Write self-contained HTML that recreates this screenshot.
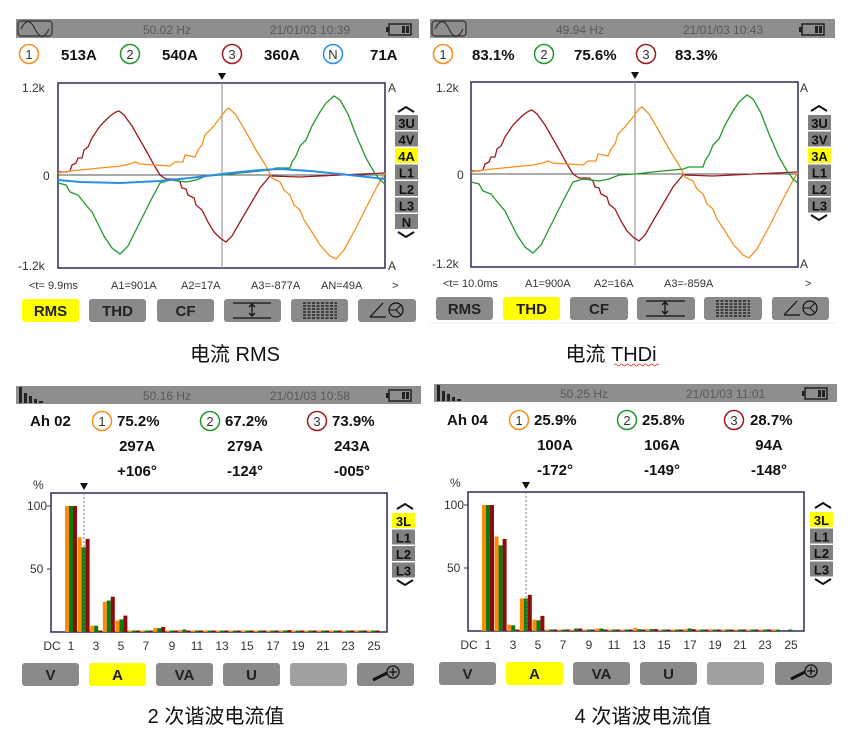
<!DOCTYPE html>
<html><head><meta charset="utf-8"><style>
html,body{margin:0;padding:0;background:#fff}
svg{display:block}
text{font-family:"Liberation Sans","Noto Sans CJK SC",sans-serif}
.hd{font-size:12px;fill:#5a5a5a}
.rd{font-size:15px;font-weight:bold;fill:#111}
.ax{font-size:12px;fill:#333}
.cr{font-size:11px;fill:#333}
.bt{font-size:15px;font-weight:bold;fill:#222;text-anchor:middle}
.sb{font-size:13px;font-weight:bold;fill:#111;text-anchor:middle}
.cap{font-size:20px;fill:#111;text-anchor:middle}
</style></head><body>
<svg id="s" width="856" height="748" viewBox="0 0 856 748" xmlns="http://www.w3.org/2000/svg">
<defs>
<g id="sine"><rect x="0" y="0" width="34" height="15" rx="3" fill="none" stroke="#333" stroke-width="1.2"/><path d="M3,8 C8,-2 12,-2 17,8 C22,18 26,18 31,8" fill="none" stroke="#333" stroke-width="1.2"/></g>
<g id="bat"><rect x="0" y="0" width="22" height="11" fill="none" stroke="#222" stroke-width="1.5"/><rect x="-3" y="3" width="3" height="5" fill="#222"/><rect x="13" y="2" width="3" height="7" fill="#222"/><rect x="17" y="2" width="3" height="7" fill="#222"/></g>
<g id="hic"><rect x="0" y="0" width="3" height="16" fill="#222"/><rect x="5" y="6" width="3" height="10" fill="#222"/><rect x="10" y="9" width="3" height="7" fill="#222"/><rect x="15" y="12" width="3" height="4" fill="#222"/><rect x="20" y="14" width="4" height="2" fill="#222"/></g>
</defs>

<!-- ========== PANEL 1 ========== -->
<rect x="16" y="19" width="403" height="19" fill="#8e8e8e"/>
<use href="#sine" x="18" y="21"/>
<text class="hd" x="143" y="34">50.02 Hz</text>
<text class="hd" x="270" y="34">21/01/03  10:39</text>
<use href="#bat" x="389" y="24"/>
<circle cx="29" cy="54" r="9.5" fill="#fff" stroke="#f39019" stroke-width="1.5"/><text x="29" y="59" font-size="13" text-anchor="middle" fill="#333">1</text>
<text class="rd" x="61" y="60">513A</text>
<circle cx="130" cy="54" r="9.5" fill="#fff" stroke="#1f9a2a" stroke-width="1.5"/><text x="130" y="59" font-size="13" text-anchor="middle" fill="#333">2</text>
<text class="rd" x="162" y="60">540A</text>
<circle cx="232" cy="54" r="9.5" fill="#fff" stroke="#a0191e" stroke-width="1.5"/><text x="232" y="59" font-size="13" text-anchor="middle" fill="#333">3</text>
<text class="rd" x="264" y="60">360A</text>
<circle cx="333" cy="54" r="9.5" fill="#fff" stroke="#2190ee" stroke-width="1.5"/><text x="333" y="59" font-size="13" text-anchor="middle" fill="#333">N</text>
<text class="rd" x="370" y="60">71A</text>

<g id="wave1">
<rect x="58" y="83" width="327" height="185" fill="#fff" stroke="#2b2b55" stroke-width="1.5"/>
<line x1="58" y1="175" x2="385" y2="175" stroke="#555" stroke-width="1"/>
<line x1="222" y1="83" x2="222" y2="268" stroke="#999" stroke-width="1.2"/>
<path d="M218,73 L226,73 L222,80 Z" fill="#111"/>
<polyline fill="none" stroke="#a0191e" stroke-width="1.3" points="58,172 66,172 70,171 72,165 76,163 78,158 82,158 84,150 88,147 92,138 96,132 100,126 104,122 110,116 116,112 119,111 124,115 132,126 140,140 148,154 154,165 160,175 166,179 176,179 180,182 182,188 186,189 188,195 194,198 196,205 202,210 208,222 214,232 220,238 226,242 232,236 240,222 250,205 260,188 270,176 300,177 340,175 385,173"/>
<polyline fill="none" stroke="#f7901e" stroke-width="1.3" points="58,173 70,171 100,168 120,166 130,164 135,162 140,164 170,166 175,162 183,162 185,155 195,157 198,150 202,145 205,135 212,128 220,118 226,110 229,108 236,115 246,132 256,150 266,166 272,178 280,182 284,190 290,195 294,205 300,210 304,220 312,232 320,245 330,256 336,259 344,250 356,228 368,204 378,185 385,173"/>
<polyline fill="none" stroke="#1f9a2a" stroke-width="1.3" points="58,183 66,185 70,192 78,195 86,205 92,212 98,224 104,236 112,248 120,254 128,246 138,226 150,202 160,183 170,180 186,182 196,180 206,176 222,175 240,173 270,170 276,168 290,168 292,162 296,156 300,146 306,140 312,126 320,112 326,103 334,96 340,100 348,114 356,135 366,158 374,172 380,180 385,184"/>
</g>
<polyline fill="none" stroke="#2b8de8" stroke-width="2" points="58,180 80,182 120,183 160,181 190,178 230,173 260,170 280,169 310,171 340,174 385,179"/>
<text class="ax" x="22" y="92">1.2k</text>
<text class="ax" x="43" y="180">0</text>
<text class="ax" x="18" y="270">-1.2k</text>
<text class="ax" x="388" y="92">A</text>
<text class="ax" x="388" y="270">A</text>
<text class="cr" x="29" y="289">&lt;t=  9.9ms</text>
<text class="cr" x="111" y="289">A1=901A</text>
<text class="cr" x="181" y="289">A2=17A</text>
<text class="cr" x="251" y="289">A3=-877A</text>
<text class="cr" x="321" y="289">AN=49A</text>
<text class="cr" x="392" y="289">&gt;</text>
<path d="M398,112 L406,107 L414,112" fill="none" stroke="#111" stroke-width="2"/>
<rect x="395" y="115" width="23" height="15" fill="#808080"/><text class="sb" x="406.5" y="128">3U</text>
<rect x="395" y="131.5" width="23" height="15" fill="#808080"/><text class="sb" x="406.5" y="144.5">4V</text>
<rect x="395" y="148" width="23" height="15" fill="#ffff00"/><text class="sb" x="406.5" y="161">4A</text>
<rect x="395" y="164.5" width="23" height="15" fill="#808080"/><text class="sb" x="406.5" y="177.5">L1</text>
<rect x="395" y="181" width="23" height="15" fill="#808080"/><text class="sb" x="406.5" y="194">L2</text>
<rect x="395" y="197.5" width="23" height="15" fill="#808080"/><text class="sb" x="406.5" y="210.5">L3</text>
<rect x="395" y="214" width="23" height="15" fill="#808080"/><text class="sb" x="406.5" y="227">N</text>
<path d="M398,232 L406,237 L414,232" fill="none" stroke="#111" stroke-width="2"/>
<rect x="22" y="299" width="57" height="23" rx="3" fill="#ffff00"/><text class="bt" x="50.5" y="316">RMS</text>
<rect x="89" y="299" width="57" height="23" rx="3" fill="#8a8a8a"/><text class="bt" x="117.5" y="316">THD</text>
<rect x="157" y="299" width="57" height="23" rx="3" fill="#8a8a8a"/><text class="bt" x="185.5" y="316">CF</text>
<rect x="224" y="299" width="57" height="23" rx="3" fill="#8a8a8a"/><path d="M233,303 H271 M233,318 H271 M252,305 V316 M249,307 L252,304 L255,307 M249,313 L252,316 L255,313" stroke="#111" stroke-width="1.3" fill="none"/>
<rect x="291" y="299" width="57" height="23" rx="3" fill="#8a8a8a"/><path d="M303,303 H337 M303,306 H337 M303,309 H337 M303,312 H337 M303,315 H337 M303,318 H337" stroke="#111" stroke-width="1.2" stroke-dasharray="3,1.5"/>
<rect x="358" y="299" width="58" height="23" rx="3" fill="#8a8a8a"/><path d="M370,317 L383,303 M370,317 L386,317" stroke="#111" stroke-width="1.2" fill="none"/><circle cx="396" cy="310" r="7" fill="none" stroke="#111" stroke-width="1.2"/><path d="M389,310 H396 L401,305 M396,310 L401,315" stroke="#111" stroke-width="1" fill="none"/>
<text class="cap" x="235" y="361">电流 RMS</text>

<!-- ========== PANEL 2 ========== -->
<rect x="430" y="19" width="405" height="19" fill="#8e8e8e"/>
<use href="#sine" x="432" y="21"/>
<text class="hd" x="556" y="34">49.94 Hz</text>
<text class="hd" x="683" y="34">21/01/03  10:43</text>
<use href="#bat" x="802" y="24"/>
<circle cx="443" cy="54" r="9.5" fill="#fff" stroke="#f39019" stroke-width="1.5"/><text x="443" y="59" font-size="13" text-anchor="middle" fill="#333">1</text>
<text class="rd" x="472" y="60">83.1%</text>
<circle cx="544" cy="54" r="9.5" fill="#fff" stroke="#1f9a2a" stroke-width="1.5"/><text x="544" y="59" font-size="13" text-anchor="middle" fill="#333">2</text>
<text class="rd" x="574" y="60">75.6%</text>
<circle cx="646" cy="54" r="9.5" fill="#fff" stroke="#a0191e" stroke-width="1.5"/><text x="646" y="59" font-size="13" text-anchor="middle" fill="#333">3</text>
<text class="rd" x="675" y="60">83.3%</text>
<use href="#wave1" transform="translate(413,-1)"/>
<text class="ax" x="436" y="92">1.2k</text>
<text class="ax" x="457" y="179">0</text>
<text class="ax" x="432" y="268">-1.2k</text>
<text class="ax" x="800" y="92">A</text>
<text class="ax" x="800" y="268">A</text>
<text class="cr" x="443" y="287">&lt;t= 10.0ms</text>
<text class="cr" x="525" y="287">A1=900A</text>
<text class="cr" x="594" y="287">A2=16A</text>
<text class="cr" x="664" y="287">A3=-859A</text>
<text class="cr" x="805" y="287">&gt;</text>
<path d="M811,111 L819,106 L827,111" fill="none" stroke="#111" stroke-width="2"/>
<rect x="808" y="115" width="23" height="15" fill="#808080"/><text class="sb" x="819.5" y="128">3U</text>
<rect x="808" y="131.5" width="23" height="15" fill="#808080"/><text class="sb" x="819.5" y="144.5">3V</text>
<rect x="808" y="148" width="23" height="15" fill="#ffff00"/><text class="sb" x="819.5" y="161">3A</text>
<rect x="808" y="164.5" width="23" height="15" fill="#808080"/><text class="sb" x="819.5" y="177.5">L1</text>
<rect x="808" y="181" width="23" height="15" fill="#808080"/><text class="sb" x="819.5" y="194">L2</text>
<rect x="808" y="197.5" width="23" height="15" fill="#808080"/><text class="sb" x="819.5" y="210.5">L3</text>
<path d="M811,215 L819,220 L827,215" fill="none" stroke="#111" stroke-width="2"/>
<rect x="436" y="297" width="57" height="23" rx="3" fill="#8a8a8a"/><text class="bt" x="464.5" y="314">RMS</text>
<rect x="503" y="297" width="57" height="23" rx="3" fill="#ffff00"/><text class="bt" x="531.5" y="314">THD</text>
<rect x="570" y="297" width="58" height="23" rx="3" fill="#8a8a8a"/><text class="bt" x="599" y="314">CF</text>
<rect x="637" y="297" width="58" height="23" rx="3" fill="#8a8a8a"/><path d="M646,301 H685 M646,316 H685 M665,303 V314 M662,305 L665,302 L668,305 M662,311 L665,314 L668,311" stroke="#111" stroke-width="1.3" fill="none"/>
<rect x="704" y="297" width="58" height="23" rx="3" fill="#8a8a8a"/><path d="M716,301 H750 M716,304 H750 M716,307 H750 M716,310 H750 M716,313 H750 M716,316 H750" stroke="#111" stroke-width="1.2" stroke-dasharray="3,1.5"/>
<rect x="772" y="297" width="57" height="23" rx="3" fill="#8a8a8a"/><path d="M784,315 L797,301 M784,315 L800,315" stroke="#111" stroke-width="1.2" fill="none"/><circle cx="810" cy="308" r="7" fill="none" stroke="#111" stroke-width="1.2"/><path d="M803,308 H810 L815,303 M810,308 L815,313" stroke="#111" stroke-width="1" fill="none"/>
<line x1="430" y1="323" x2="835" y2="323" stroke="#eee"/>
<text class="cap" x="611" y="361">电流 THDi</text>
<path d="M614,365 q1.5,-2 3,0 t3,0 t3,0 t3,0 t3,0 t3,0 t3,0 t3,0 t3,0 t3,0 t3,0 t3,0 t3,0 t3,0 t3,0" fill="none" stroke="#d33" stroke-width="0.8"/>

<!-- ========== PANEL 3 ========== -->
<rect x="16" y="386" width="405" height="18" fill="#8e8e8e"/>
<use href="#hic" x="19" y="387"/>
<text class="hd" x="143" y="400">50.16 Hz</text>
<text class="hd" x="270" y="400">21/01/03  10:58</text>
<use href="#bat" x="389" y="390"/>
<text class="rd" x="30" y="426">Ah 02</text>
<circle cx="102" cy="421" r="9.5" fill="#fff" stroke="#f39019" stroke-width="1.5"/><text x="102" y="426" font-size="13" text-anchor="middle" fill="#333">1</text>
<text class="rd" x="117" y="426">75.2%</text>
<circle cx="210" cy="421" r="9.5" fill="#fff" stroke="#1f9a2a" stroke-width="1.5"/><text x="210" y="426" font-size="13" text-anchor="middle" fill="#333">2</text>
<text class="rd" x="225" y="426">67.2%</text>
<circle cx="317" cy="421" r="9.5" fill="#fff" stroke="#a0191e" stroke-width="1.5"/><text x="317" y="426" font-size="13" text-anchor="middle" fill="#333">3</text>
<text class="rd" x="332" y="426">73.9%</text>
<text class="rd" x="137" y="451" text-anchor="middle">297A</text>
<text class="rd" x="245" y="451" text-anchor="middle">279A</text>
<text class="rd" x="352" y="451" text-anchor="middle">243A</text>
<text class="rd" x="137" y="476" text-anchor="middle">+106°</text>
<text class="rd" x="245" y="476" text-anchor="middle">-124°</text>
<text class="rd" x="352" y="476" text-anchor="middle">-005°</text>
<text class="ax" x="33" y="489">%</text>
<rect x="51" y="493" width="336" height="139" fill="#fff" stroke="#2b2b55" stroke-width="1.5"/>
<g id="bars3"></g>
<line x1="84" y1="493" x2="84" y2="632" stroke="#777" stroke-dasharray="2,2"/>
<path d="M80,483 L88,483 L84,490 Z" fill="#111"/>
<line x1="47" y1="506" x2="51" y2="506" stroke="#333"/><line x1="47" y1="569" x2="51" y2="569" stroke="#333"/>
<text class="ax" x="27" y="510">100</text>
<text class="ax" x="30" y="573">50</text>
<g class="ax" text-anchor="middle">
<text x="52" y="650">DC</text><text x="71" y="650">1</text><text x="96" y="650">3</text><text x="121" y="650">5</text><text x="146" y="650">7</text><text x="172" y="650">9</text><text x="197" y="650">11</text><text x="222" y="650">13</text><text x="247" y="650">15</text><text x="273" y="650">17</text><text x="298" y="650">19</text><text x="323" y="650">21</text><text x="348" y="650">23</text><text x="374" y="650">25</text>
</g>
<path d="M397,509 L405,504 L413,509" fill="none" stroke="#111" stroke-width="2"/>
<rect x="392" y="513" width="23" height="15" fill="#ffff00"/><text class="sb" x="403.5" y="526">3L</text>
<rect x="392" y="529.5" width="23" height="15" fill="#808080"/><text class="sb" x="403.5" y="542.5">L1</text>
<rect x="392" y="546" width="23" height="15" fill="#808080"/><text class="sb" x="403.5" y="559">L2</text>
<rect x="392" y="562.5" width="23" height="15" fill="#808080"/><text class="sb" x="403.5" y="575.5">L3</text>
<path d="M397,580 L405,585 L413,580" fill="none" stroke="#111" stroke-width="2"/>
<rect x="22" y="663" width="57" height="23" rx="3" fill="#8a8a8a"/><text class="bt" x="50.5" y="680">V</text>
<rect x="89" y="663" width="57" height="23" rx="3" fill="#ffff00"/><text class="bt" x="117.5" y="680">A</text>
<rect x="156" y="663" width="57" height="23" rx="3" fill="#8a8a8a"/><text class="bt" x="184.5" y="680">VA</text>
<rect x="223" y="663" width="57" height="23" rx="3" fill="#8a8a8a"/><text class="bt" x="251.5" y="680">U</text>
<rect x="290" y="663" width="57" height="23" rx="3" fill="#a0a0a0"/>
<rect x="357" y="663" width="57" height="23" rx="3" fill="#8a8a8a"/><path d="M373,680 L387,673" stroke="#111" stroke-width="3"/><circle cx="393" cy="672" r="6" fill="none" stroke="#111" stroke-width="1.3"/><path d="M389,672 H397 M393,668 V676" stroke="#111" stroke-width="1.3"/>
<text class="cap" x="216" y="723">2 次谐波电流值</text>

<!-- ========== PANEL 4 ========== -->
<rect x="434" y="384" width="403" height="18" fill="#8e8e8e"/>
<use href="#hic" x="437" y="385"/>
<text class="hd" x="560" y="398">50.25 Hz</text>
<text class="hd" x="686" y="398">21/01/03  11:01</text>
<use href="#bat" x="805" y="388"/>
<text class="rd" x="447" y="425">Ah 04</text>
<circle cx="519" cy="420" r="9.5" fill="#fff" stroke="#f39019" stroke-width="1.5"/><text x="519" y="425" font-size="13" text-anchor="middle" fill="#333">1</text>
<text class="rd" x="534" y="425">25.9%</text>
<circle cx="627" cy="420" r="9.5" fill="#fff" stroke="#1f9a2a" stroke-width="1.5"/><text x="627" y="425" font-size="13" text-anchor="middle" fill="#333">2</text>
<text class="rd" x="642" y="425">25.8%</text>
<circle cx="734" cy="420" r="9.5" fill="#fff" stroke="#a0191e" stroke-width="1.5"/><text x="734" y="425" font-size="13" text-anchor="middle" fill="#333">3</text>
<text class="rd" x="750" y="425">28.7%</text>
<text class="rd" x="555" y="450" text-anchor="middle">100A</text>
<text class="rd" x="662" y="450" text-anchor="middle">106A</text>
<text class="rd" x="769" y="450" text-anchor="middle">94A</text>
<text class="rd" x="555" y="475" text-anchor="middle">-172°</text>
<text class="rd" x="662" y="475" text-anchor="middle">-149°</text>
<text class="rd" x="769" y="475" text-anchor="middle">-148°</text>
<text class="ax" x="450" y="487">%</text>
<rect x="468" y="492" width="336" height="139" fill="#fff" stroke="#2b2b55" stroke-width="1.5"/>
<g id="bars4"></g>
<line x1="526" y1="492" x2="526" y2="631" stroke="#777" stroke-dasharray="2,2"/>
<path d="M522,482 L530,482 L526,489 Z" fill="#111"/>
<line x1="464" y1="505" x2="468" y2="505" stroke="#333"/><line x1="464" y1="568" x2="468" y2="568" stroke="#333"/>
<text class="ax" x="444" y="509">100</text>
<text class="ax" x="447" y="572">50</text>
<g class="ax" text-anchor="middle">
<text x="469" y="649">DC</text><text x="488" y="649">1</text><text x="513" y="649">3</text><text x="538" y="649">5</text><text x="563" y="649">7</text><text x="589" y="649">9</text><text x="614" y="649">11</text><text x="639" y="649">13</text><text x="664" y="649">15</text><text x="690" y="649">17</text><text x="715" y="649">19</text><text x="740" y="649">21</text><text x="765" y="649">23</text><text x="791" y="649">25</text>
</g>
<path d="M815,508 L823,503 L831,508" fill="none" stroke="#111" stroke-width="2"/>
<rect x="810" y="512" width="23" height="15" fill="#ffff00"/><text class="sb" x="821.5" y="525">3L</text>
<rect x="810" y="528.5" width="23" height="15" fill="#808080"/><text class="sb" x="821.5" y="541.5">L1</text>
<rect x="810" y="545" width="23" height="15" fill="#808080"/><text class="sb" x="821.5" y="558">L2</text>
<rect x="810" y="561.5" width="23" height="15" fill="#808080"/><text class="sb" x="821.5" y="574.5">L3</text>
<path d="M815,579 L823,584 L831,579" fill="none" stroke="#111" stroke-width="2"/>
<rect x="439" y="662" width="57" height="23" rx="3" fill="#8a8a8a"/><text class="bt" x="467.5" y="679">V</text>
<rect x="506" y="662" width="57" height="23" rx="3" fill="#ffff00"/><text class="bt" x="534.5" y="679">A</text>
<rect x="573" y="662" width="57" height="23" rx="3" fill="#8a8a8a"/><text class="bt" x="601.5" y="679">VA</text>
<rect x="640" y="662" width="57" height="23" rx="3" fill="#8a8a8a"/><text class="bt" x="668.5" y="679">U</text>
<rect x="707" y="662" width="57" height="23" rx="3" fill="#a0a0a0"/>
<rect x="775" y="662" width="57" height="23" rx="3" fill="#8a8a8a"/><path d="M791,679 L805,672" stroke="#111" stroke-width="3"/><circle cx="811" cy="671" r="6" fill="none" stroke="#111" stroke-width="1.3"/><path d="M807,671 H815 M811,667 V675" stroke="#111" stroke-width="1.3"/>
<text class="cap" x="643" y="723">4 次谐波电流值</text>
</svg>
<script>
(function(){
var NS="http://www.w3.org/2000/svg",cols=["#ff8c00","#0a7a0a","#8b0a0a"];
function draw(id,x1,base,d){
  var g=document.getElementById(id);
  for(var n=0;n<d.length;n++){
    var c=x1+12.6*n;
    for(var k=0;k<3;k++){
      var v=d[n][k]; if(v<=0) continue;
      var h=Math.max(1.5,v*1.26);
      var r=document.createElementNS(NS,"rect");
      r.setAttribute("x",c-6+4*k);r.setAttribute("y",base-h);
      r.setAttribute("width",4);r.setAttribute("height",h);
      r.setAttribute("fill",cols[k]);g.appendChild(r);
    }
  }
}
var small=[[0.5,0.5,1],[0.5,0.5,1],[3,3,4],[1,0.5,1],[1.5,2,1],[1,0.5,1],[0.5,0.5,0.5],[1,1,1],[0.5,0.5,1],[0.5,0.5,0.5],[0.5,0.5,0.5],[0.5,0.5,1],[0.5,1,1.5],[0.5,0.5,0.5],[0.5,0.5,0.5],[0.5,0.5,0.5],[0.5,0.5,0.5],[0.5,1,0.5],[1,1,0.5],[0.5,0.5,0.5]];
var d3=[[100,100,100],[75.2,67.2,73.9],[5,5,0.5],[24,25,28],[9,10,13]].concat(small);
var small4=[[0.5,0.5,0.5],[0.5,1,1],[1,2,2],[0.5,0.5,1],[2,2,1],[1,0.5,0.5],[0.5,0.5,0.5],[2.5,1.5,1],[1.5,1.5,1.5],[0.5,0.5,0.5],[1,1,0.5],[1.5,2,1.5],[0.5,0.5,0.5],[1.5,1,0.5],[0.5,0.5,0.5],[0.5,0.5,0.5],[1,1,0.5],[0.5,0.5,0.5],[0.5,0.5,0],[0,0.5,0]];
var d4=[[100,100,100],[75,68,73],[5,4.5,0.5],[25.9,25.8,28.7],[9,8.5,12]].concat(small4);
draw("bars3",71,632,d3);
draw("bars4",488,631,d4);
})();
</script>
</body></html>
